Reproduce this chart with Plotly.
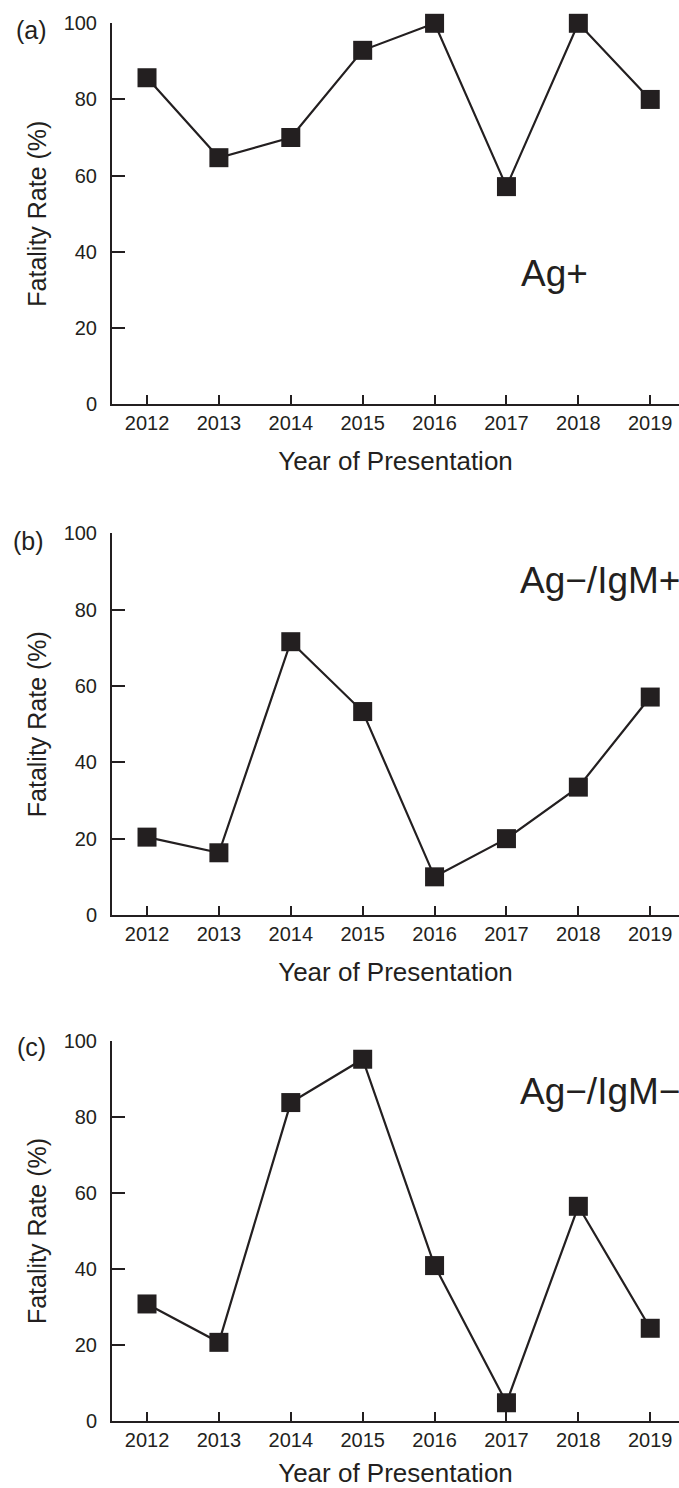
import plotly.graph_objects as go

years = [2012, 2013, 2014, 2015, 2016, 2017, 2018, 2019]
ag_pos = [85.7, 64.7, 70.0, 92.9, 100.0, 57.1, 100.0, 80.0]
ag_neg_igm_pos = [20.4, 16.3, 71.6, 53.3, 10.0, 20.0, 33.5, 57.1]
ag_neg_igm_neg = [30.8, 20.7, 83.8, 95.2, 40.9, 4.8, 56.5, 24.4]
panel_labels = ["(a)", "(b)", "(c)"]
group_labels = ["Ag+", "Ag\u2212/IgM+", "Ag\u2212/IgM\u2212"]
y_ticks = [0, 20, 40, 60, 80, 100]

W, H = 679, 1488
INK = "#231f20"
FONT = "Liberation Sans, Arial, sans-serif"

# panel pixel geometry (top, bottom) of plotting area
panels_px = [(23.3, 404.0), (533.3, 915.0), (1041.0, 1421.0)]
x_left_px = 112

series = [ag_pos, ag_neg_igm_pos, ag_neg_igm_neg]

fig = go.Figure()
for i, (vals, (top, bot)) in enumerate(zip(series, panels_px)):
    n = "" if i == 0 else str(i + 1)
    fig.add_trace(go.Scatter(
        x=years, y=vals, mode="lines+markers",
        line=dict(color=INK, width=2.2),
        marker=dict(symbol="square", size=19, color=INK, line=dict(width=0)),
        xaxis="x" + n, yaxis="y" + n, showlegend=False, cliponaxis=False,
    ))
    dom_y = [1 - bot / H, 1 - top / H]
    fig.layout["xaxis" + n] = dict(
        domain=[x_left_px / W, 1.0], anchor="y" + n,
        range=[2011.513, 2019.40], tickvals=years,
        ticks="inside", ticklen=9, tickwidth=2, tickcolor=INK,
        showline=True, linecolor=INK, linewidth=2, showgrid=False, zeroline=False,
        tickfont=dict(family=FONT, size=20, color=INK),
        ticklabelstandoff=0,
        title=dict(text="Year of Presentation", font=dict(family=FONT, size=26, color=INK), standoff=19),
        automargin=False,
    )
    fig.layout["yaxis" + n] = dict(
        domain=dom_y, anchor="x" + n,
        range=[0, 100], tickvals=y_ticks,
        ticks="inside", ticklen=13, tickwidth=2, tickcolor=INK,
        showline=True, linecolor=INK, linewidth=2, showgrid=False, zeroline=False,
        tickfont=dict(family=FONT, size=20, color=INK),
        ticklabelstandoff=9,
        title=dict(text="Fatality Rate (%)", font=dict(family=FONT, size=25, color=INK), standoff=10),
        automargin=False,
    )

# panel letters
letter_pos = [(31, 30), (28, 541), (31, 1047)]
for lab, (px, py) in zip(panel_labels, letter_pos):
    fig.add_annotation(text=lab, x=px / W, y=1 - py / H, xref="paper", yref="paper",
                       xanchor="center", yanchor="middle", showarrow=False,
                       font=dict(family=FONT, size=25, color=INK))

# group labels
group_pos = [(519, 273), (518, 580), (518, 1091)]
for lab, (px, py) in zip(group_labels, group_pos):
    fig.add_annotation(text=lab, x=px / W, y=1 - py / H, xref="paper", yref="paper",
                       xanchor="left", yanchor="middle", showarrow=False,
                       font=dict(family=FONT, size=37, color=INK))

fig.update_layout(
    width=W, height=H,
    margin=dict(l=0, r=0, t=0, b=0),
    paper_bgcolor="white", plot_bgcolor="white",
)

fig.write_html("out.html")
